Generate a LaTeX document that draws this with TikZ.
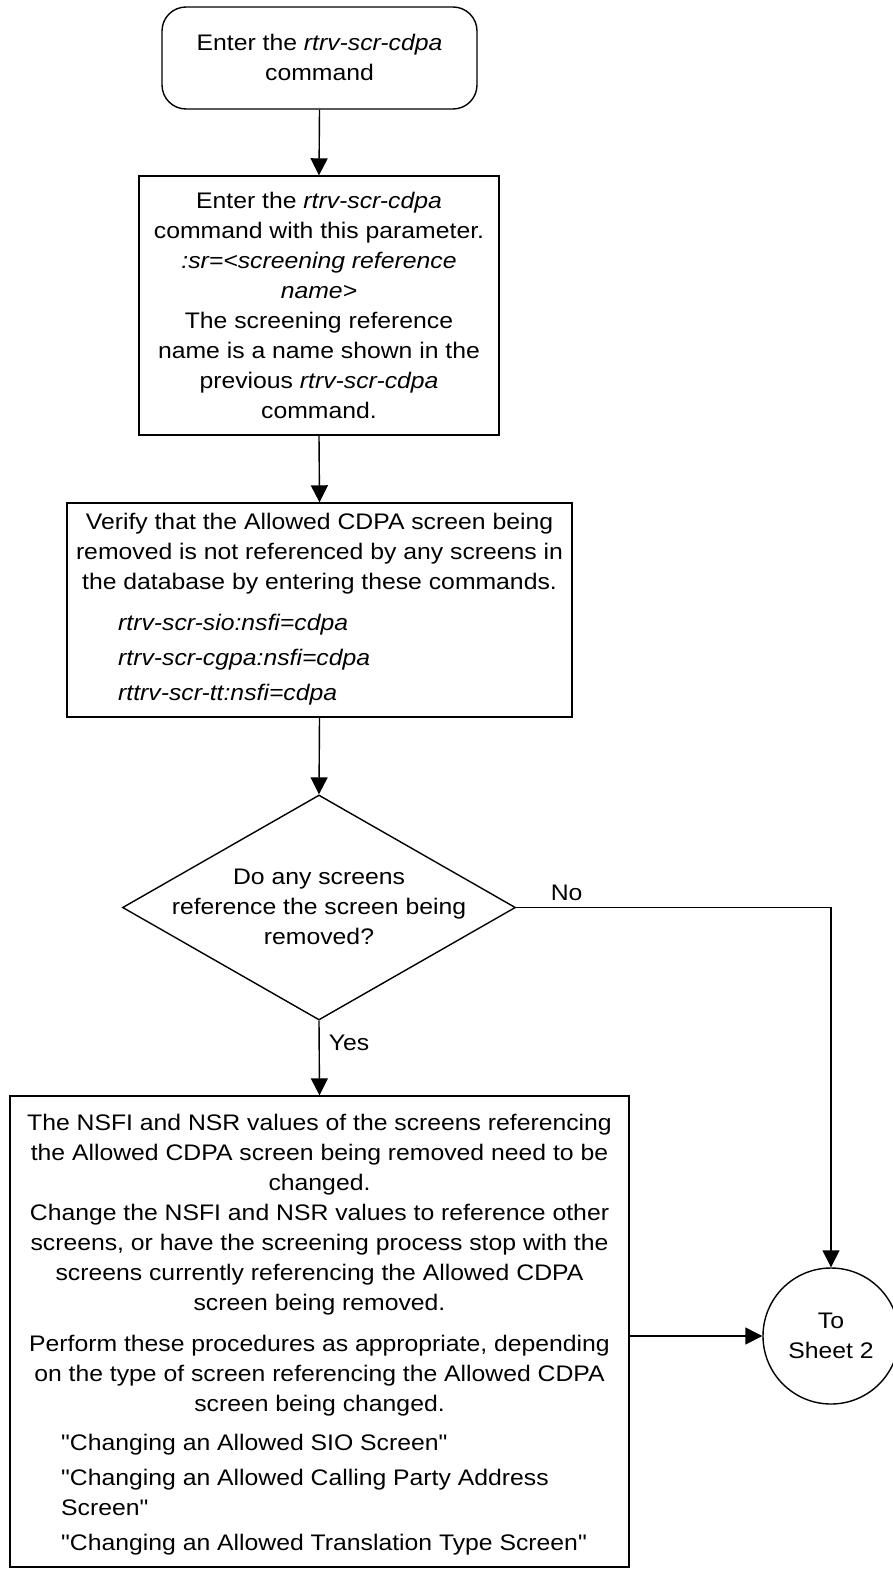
\documentclass[tikz,border=0pt]{standalone}
\usepackage{fontspec}
\setmainfont{Liberation Sans}[FakeStretch=1.1, Ligatures=TeXOff]
\usetikzlibrary{arrows.meta,shapes.geometric}
\begin{document}
\begin{tikzpicture}[x=1pt,y=-1pt,
  every node/.style={font=\fontsize{22.5}{30}\selectfont, inner sep=0pt},
  boxst/.style={draw, line width=1.4pt, rectangle},
  arr/.style={draw, line width=1.4pt, -{Triangle[length=17pt,width=17pt]}},
  lbl/.style={align=center}
]
\useasboundingbox (0,0) rectangle (893,1570);
% start
\node[boxst, rounded corners=24pt, minimum width=315pt, minimum height=102pt] (start) at (319.5,58) {};
\node[lbl] (starttxt) at (319.5,57.5) {Enter the \textit{rtrv-scr-cdpa}\\command};
% box2
\node[boxst, minimum width=360pt, minimum height=259pt] (b2) at (319,305.5) {};
\node[lbl] (b2txt) at (319,305) {Enter the \textit{rtrv-scr-cdpa}\\command with this parameter.\\\textit{:sr=<screening reference}\\\textit{name>}\\The screening reference\\name is a name shown in the\\previous \textit{rtrv-scr-cdpa}\\command.};
% box3
\node[boxst, minimum width=505pt, minimum height=214pt] (b3) at (319.5,610) {};
\node[lbl] (b3txt) at (319.5,554) {Verify that the Allowed CDPA screen being\\removed is not referenced by any screens in\\the database by entering these commands.};
\node[align=left, anchor=west] (b3cmd) at (118,660) {\textit{rtrv-scr-sio:nsfi=cdpa}\\[5pt]\textit{rtrv-scr-cgpa:nsfi=cdpa}\\[5pt]\textit{rttrv-scr-tt:nsfi=cdpa}};
% decision
\node[diamond, draw, line width=1.4pt, minimum width=393pt, minimum height=225pt] (dec) at (319,907.5) {};
\node[lbl] (dectxt) at (319,906.5) {Do any screens\\reference the screen being\\removed?};
% big box
\node[boxst, minimum width=619pt, minimum height=471pt] (big) at (319.5,1331.5) {};
\node[lbl] (p1) at (319.5,1215) {The NSFI and NSR values of the screens referencing\\the Allowed CDPA screen being removed need to be\\changed.\\Change the NSFI and NSR values to reference other\\screens, or have the screening process stop with the\\screens currently referencing the Allowed CDPA\\screen being removed.};
\node[lbl] (p3) at (319.5,1375.6) {Perform these procedures as appropriate, depending\\on the type of screen referencing the Allowed CDPA\\screen being changed.};
\node[align=left, anchor=west] (lst) at (61,1494.5) {"Changing an Allowed SIO Screen"\\[5pt]"Changing an Allowed Calling Party Address\\Screen"\\[5pt]"Changing an Allowed Translation Type Screen"};
% circle
\node[circle, draw, line width=1.4pt, minimum size=136pt, align=center] (sheet) at (831,1336) {To\\Sheet 2};
% connectors
\draw[arr] (start.south) -- (b2.north);
\draw[arr] (b2.south) -- (b3.north);
\draw[arr] (b3.south) -- (dec.north);
\draw[arr] (dec.south) -- node[right=9pt, pos=0.3] (yes) {Yes} (big.north);
\draw[arr] (dec.east) -| node[above=6pt, pos=0.08] (no) {No} (sheet.north);
\draw[arr] (sheet.west -| big.east) -- (sheet.west);
\end{tikzpicture}
\end{document}
